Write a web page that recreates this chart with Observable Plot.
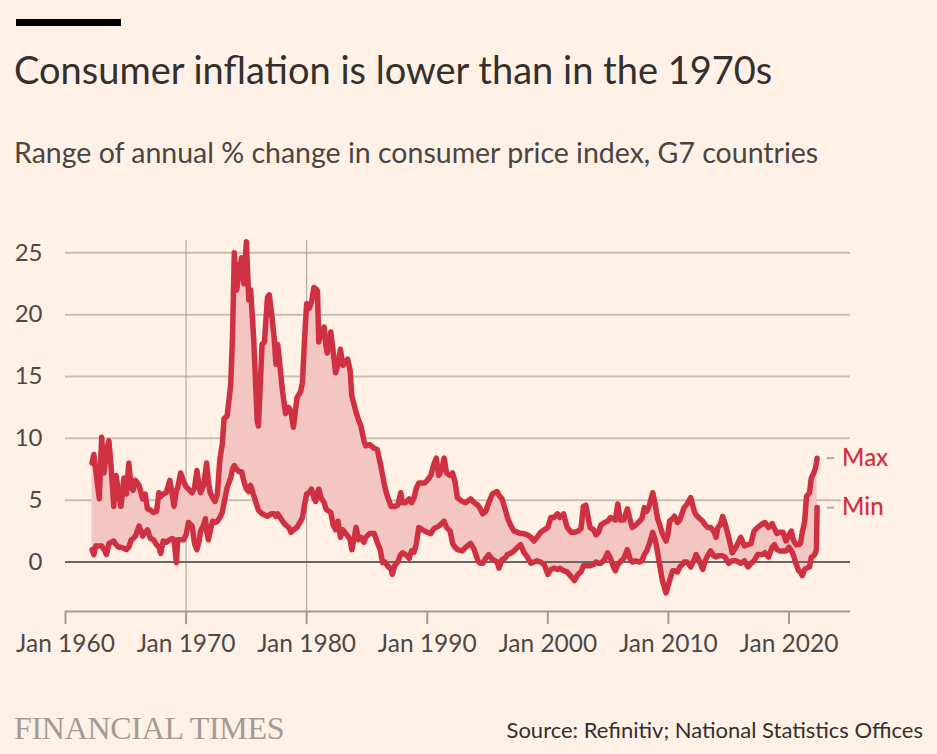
<!DOCTYPE html>
<html>
<head>
<meta charset="utf-8">
<script src="https://cdn.jsdelivr.net/npm/d3@7"></script>
<script src="https://cdn.jsdelivr.net/npm/@observablehq/plot@0.6"></script>
<style>
  html, body { margin: 0; padding: 0; background: #fff1e5; }
  body { width: 937px; height: 754px; position: relative; overflow: hidden; font-family: Lato, "Open Sans", sans-serif; }
  #bar { position: absolute; left: 16px; top: 19px; width: 105px; height: 7px; background: #000; }
  #title { position: absolute; left: 14px; top: 46px; font-size: 38px; color: #33302e; white-space: nowrap; }
  #subtitle { position: absolute; left: 14px; top: 135px; font-size: 28.5px; color: #4a4542; white-space: nowrap; }
  #chart { position: absolute; left: 0; top: 200px; }
  #ft { position: absolute; left: 14px; top: 710px; font-family: "Liberation Serif", "DejaVu Serif", serif; font-size: 32px; color: #a39a92; letter-spacing: -0.3px; white-space: nowrap; }
  #source { position: absolute; right: 14px; top: 716px; font-size: 22px; color: #33302e; white-space: nowrap; }
</style>
</head>
<body>
<div id="bar"></div>
<div id="title">Consumer inflation is lower than in the 1970s</div>
<div id="subtitle">Range of annual % change in consumer price index, G7 countries</div>
<div id="chart"></div>
<div id="ft">FINANCIAL TIMES</div>
<div id="source">Source: Refinitiv; National Statistics Offices</div>
<script>
const dates = [
1962.2,1962.35,1962.5,1962.8,1963.0,1963.2,1963.4,1963.6,1963.8,1964.0,1964.2,1964.4,1964.6,1964.85,
1965.05,1965.25,1965.45,1965.6,1965.8,1966.1,1966.4,1966.6,1966.8,1967.05,1967.3,1967.55,1967.75,1967.9,
1968.1,1968.35,1968.65,1968.85,1969.0,1969.2,1969.3,1969.55,1969.8,1970.0,1970.2,1970.5,1970.7,1970.9,
1971.1,1971.2,1971.45,1971.6,1971.7,1971.85,1972.0,1972.2,1972.4,1972.6,1972.8,1973.0,1973.15,1973.4,
1973.7,1973.85,1974.0,1974.2,1974.4,1974.6,1974.8,1975.0,1975.2,1975.35,1975.6,1975.9,1976.0,1976.3,
1976.5,1976.75,1976.9,1977.1,1977.3,1977.45,1977.6,1978.0,1978.25,1978.5,1978.7,1978.9,1979.2,1979.5,
1979.65,1979.8,1980.0,1980.2,1980.4,1980.6,1980.75,1980.9,1981.0,1981.2,1981.45,1981.6,1981.7,1982.0,
1982.2,1982.4,1982.6,1982.8,1983.0,1983.4,1983.6,1983.75,1984.1,1984.3,1984.5,1984.75,1984.9,1985.2,
1985.6,1985.85,1986.1,1986.3,1986.5,1986.7,1987.0,1987.1,1987.3,1987.55,1987.8,1987.95,1988.2,1988.5,
1988.7,1988.9,1989.1,1989.3,1989.6,1989.8,1990.0,1990.3,1990.55,1990.75,1990.95,1991.2,1991.4,1991.6,
1991.9,1992.1,1992.3,1992.5,1992.9,1993.2,1993.6,1993.9,1994.2,1994.4,1994.6,1994.85,1995.1,1995.4,
1995.8,1995.95,1996.2,1996.45,1996.65,1996.9,1997.2,1997.5,1997.75,1998.0,1998.3,1998.6,1998.85,1999.1,
1999.4,1999.7,2000.0,2000.25,2000.5,2000.8,2001.0,2001.3,2001.6,2001.95,2002.2,2002.5,2002.75,2002.95,
2003.15,2003.5,2003.8,2004.0,2004.2,2004.4,2004.7,2004.95,2005.2,2005.4,2005.6,2005.8,2006.0,2006.3,
2006.6,2006.8,2007.0,2007.3,2007.6,2007.8,2008.0,2008.2,2008.4,2008.7,2008.9,2009.1,2009.25,2009.5,
2009.8,2009.95,2010.1,2010.35,2010.5,2010.75,2010.95,2011.15,2011.3,2011.55,2011.85,2012.15,2012.3,2012.5,
2012.85,2013.05,2013.25,2013.5,2013.75,2013.95,2014.1,2014.3,2014.5,2014.7,2015.0,2015.3,2015.6,2016.0,
2016.3,2016.6,2016.85,2017.1,2017.4,2017.8,2018.0,2018.3,2018.6,2018.8,2019.0,2019.2,2019.5,2019.75,
2020.0,2020.2,2020.35,2020.6,2020.8,2020.95,2021.1,2021.3,2021.45,2021.7,2021.85,2022.05,2022.2,2022.27,2022.33
];
const maxValues = [
8.0,8.7,7.5,5.1,10.1,7.2,9.0,9.8,7.5,4.5,7.0,5.5,4.5,6.8,
5.5,8.0,6.0,5.8,6.6,6.2,5.1,5.5,4.3,4.2,4.0,4.1,5.6,5.3,
5.5,5.6,6.6,5.5,4.5,5.8,6.0,7.2,6.5,6.1,5.9,5.6,6.0,7.4,
6.0,5.6,6.2,7.2,8.0,6.5,5.6,5.2,4.9,5.5,8.3,9.5,11.6,11.8,
14.3,18.3,25.0,22.0,23.5,24.6,22.5,25.9,21.2,22.0,18.2,11.4,11.0,17.6,
17.8,21.4,21.6,20.0,18.2,16.0,17.6,13.8,12.0,12.5,12.2,10.9,13.3,13.8,
14.5,17.6,20.9,20.5,21.0,22.2,22.1,21.9,17.8,18.5,19.0,17.5,16.9,18.6,
17.0,15.3,16.0,17.2,15.9,16.4,15.5,13.4,12.1,11.5,11.0,9.8,9.4,9.5,
9.2,9.1,8.0,7.0,6.0,5.3,4.5,4.5,4.5,4.6,5.6,4.8,4.8,5.1,
4.8,5.2,6.0,6.4,6.4,6.4,6.6,7.0,7.9,8.4,7.0,7.5,8.4,7.2,
7.0,7.2,6.5,5.2,4.9,4.8,5.1,4.8,4.6,4.3,3.9,4.1,4.8,5.5,
5.7,5.4,5.1,4.3,3.6,3.0,2.5,2.4,2.3,2.3,2.2,2.0,1.7,2.0,
2.4,2.6,2.8,3.6,3.6,3.9,3.6,3.9,2.8,2.4,2.4,2.5,2.7,4.5,
4.6,2.8,2.6,2.2,2.4,3.0,3.2,3.3,3.6,3.5,3.4,4.7,3.4,3.4,
4.3,3.5,2.8,3.0,3.3,3.5,4.4,4.1,4.5,5.6,4.7,3.5,3.1,2.3,
1.7,2.2,3.3,3.5,3.7,3.2,3.4,4.0,4.4,4.7,5.2,4.1,3.8,3.6,
3.3,3.0,2.8,2.8,2.5,2.0,2.8,3.0,3.7,3.1,2.0,0.75,1.2,2.0,
1.3,1.4,1.5,2.5,2.8,3.1,3.2,2.8,3.1,2.7,2.3,2.4,2.4,1.7,
2.2,2.5,1.8,1.4,1.4,1.5,2.4,3.3,5.3,5.6,6.8,7.2,7.6,8.0,8.4
];
const minValues = [
1.0,0.6,1.3,1.3,1.3,1.0,0.6,1.5,1.6,1.7,1.4,1.2,1.2,1.1,
1.0,1.2,1.8,1.9,2.1,2.9,2.1,2.4,2.6,1.9,1.8,1.4,1.2,0.7,
1.7,1.6,1.8,1.9,1.8,-0.05,1.8,1.8,1.8,2.2,3.2,2.9,1.5,1.0,
1.8,2.5,3.0,3.5,2.5,1.8,2.5,3.3,3.2,3.3,3.6,4.0,4.8,6.0,
6.8,7.5,7.8,7.5,7.3,7.3,6.5,5.9,5.7,6.2,5.4,4.5,4.2,3.9,
3.8,3.7,3.8,3.9,3.9,3.7,3.9,3.3,3.0,2.8,2.4,2.6,2.8,3.3,
3.6,4.5,5.5,5.6,5.9,5.2,4.9,5.6,5.9,5.2,4.8,4.3,4.2,4.0,
3.0,2.6,3.3,2.0,2.6,2.1,1.8,1.0,2.8,1.8,2.0,1.6,2.0,2.3,
2.3,1.6,1.0,-0.05,0.0,-0.3,-0.6,-1.0,-0.3,0.0,0.6,0.75,0.6,0.3,
0.9,0.8,1.5,2.8,2.6,2.5,2.4,2.3,2.7,2.8,2.9,3.1,3.3,2.8,
2.5,1.5,1.2,1.0,0.9,1.2,1.5,1.0,0.1,-0.1,-0.1,0.3,0.6,0.2,
0.0,-0.5,0.2,0.3,0.6,0.7,0.9,1.2,1.4,0.8,0.4,-0.1,0.0,0.1,
0.0,-0.2,-1.0,-0.6,-0.5,-0.6,-0.5,-0.7,-0.8,-1.2,-1.5,-1.0,-0.8,-0.3,
-0.3,-0.3,-0.2,0.0,-0.1,-0.1,0.2,0.75,0.3,-0.3,-0.7,-0.2,0.0,0.3,
1.0,0.3,0.0,0.1,0.0,0.1,0.6,0.9,1.4,2.4,1.8,0.8,-0.1,-1.5,
-2.5,-2.0,-1.5,-0.7,-0.7,-0.8,-0.4,-0.2,0.0,0.0,-0.4,0.2,0.6,0.2,
-0.6,0.1,0.5,0.9,0.5,0.4,0.5,0.5,0.5,0.4,-0.1,0.1,0.1,-0.1,
0.1,-0.4,-0.1,0.1,0.6,0.6,0.75,0.4,1.2,1.4,1.0,0.9,0.9,0.9,
1.2,0.9,0.6,-0.2,-0.7,-0.8,-1.1,-0.6,-0.5,-0.4,0.4,0.5,0.75,1.0,4.4
];
const yTicks = [0, 5, 10, 15, 20, 25];
const xTicks = [1960, 1970, 1980, 1990, 2000, 2010, 2020];
const decadeLines = [1970, 1980];
const seriesLabels = ["Max", "Min"];

const data = dates.map((d, i) => ({date: d, max: maxValues[i], min: minValues[i]}));
const last = data[data.length - 1];
const labels = [
  {date: last.date, v: last.max, label: seriesLabels[0]},
  {date: last.date, v: last.min, label: seriesLabels[1]}
];

const red = "#cf3042";
const bg = "#fff1e5";

const chart = Plot.plot({
  width: 937,
  height: 470,
  marginLeft: 65,
  marginRight: 87,
  marginTop: 40,
  marginBottom: 59,
  style: {background: "transparent", fontFamily: "Lato, 'Open Sans', sans-serif", fontSize: "24px", overflow: "visible"},
  x: {domain: [1960, 2025.1], label: null},
  y: {domain: [-4, 26], label: null},
  marks: [
    Plot.ruleY(yTicks.filter(d => d !== 0), {stroke: "#c9beb2", strokeWidth: 2}),
    Plot.ruleX(decadeLines, {stroke: "#a9a098", strokeWidth: 1}),
    Plot.areaY(data, {x: "date", y1: "min", y2: "max", fill: "#f4c6c1"}),
    Plot.ruleY([0], {stroke: "#6b6560", strokeWidth: 2}),
    Plot.lineY(data, {x: "date", y: "min", stroke: red, strokeWidth: 5.5, strokeLinejoin: "round", strokeLinecap: "round"}),
    Plot.lineY(data, {x: "date", y: "max", stroke: red, strokeWidth: 5.5, strokeLinejoin: "round", strokeLinecap: "round"}),
    Plot.ruleY([-4], {stroke: "#a29a93", strokeWidth: 2}),
    Plot.axisX({ticks: xTicks, tickFormat: d => "Jan " + d, tickSize: 13, tickPadding: 10, stroke: "#a29a93", strokeWidth: 2, fill: "#4d4845", fontSize: 24.5, label: null}),
    Plot.axisY({ticks: yTicks, tickSize: 0, tickPadding: 23, fill: "#4d4845", fontSize: 24, label: null}),
    Plot.ruleY(labels, {y: "v", x1: d => d.date + 0.85, x2: d => d.date + 1.45, stroke: "#b3aca5", strokeWidth: 2}),
    Plot.text(labels, {x: "date", y: "v", text: "label", dx: 25, textAnchor: "start", fill: red, fontSize: 24, fontWeight: 500, stroke: bg, strokeWidth: 6, paintOrder: "stroke"})
  ]
});
document.getElementById("chart").appendChild(chart);
</script>
</body>
</html>
